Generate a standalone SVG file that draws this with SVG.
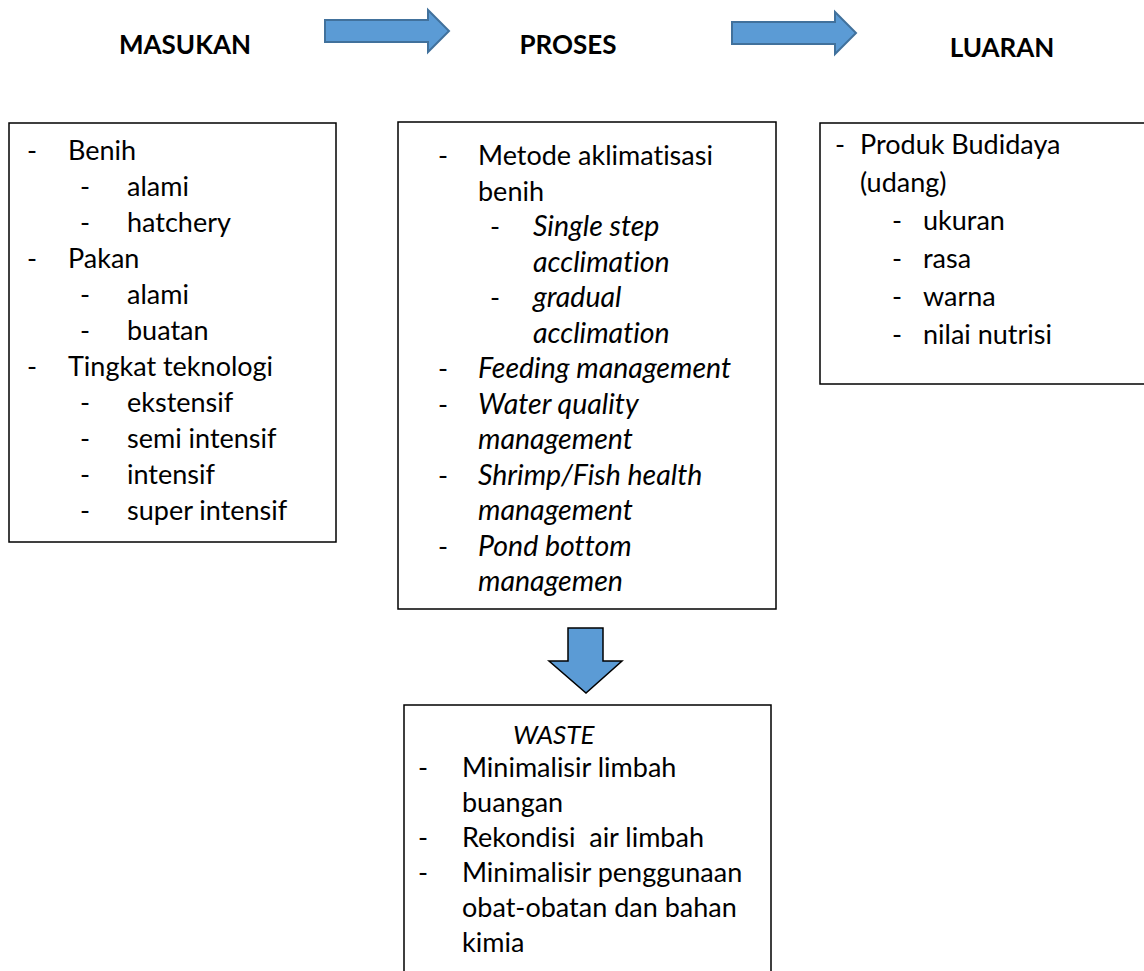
<svg xmlns="http://www.w3.org/2000/svg" width="1144" height="971" viewBox="0 0 1144 971">
  <style>
    text { font-family: Lato, "Open Sans", "Liberation Sans", sans-serif; font-size: 27px; fill: #000; font-variant-ligatures: none; }
    .head { font-weight: bold; font-size: 26px; text-anchor: middle; }
    .it { font-style: italic; font-size: 28.5px; }
    .cap { font-style: italic; font-size: 26px; }
    .dash { text-anchor: middle; }
    .box { fill: #fff; stroke: #000; stroke-width: 1.5; }
    .flow { fill: #5b9bd5; stroke: #41719c; stroke-width: 2; stroke-linejoin: miter; }
    .down { fill: #5b9bd5; stroke: #000; stroke-width: 1.5; stroke-linejoin: miter; }
  </style>
  <rect width="1144" height="971" fill="#fff"/>

  <!-- stage headings -->
  <g id="headings">
    <text class="head" x="185" y="54">MASUKAN</text>
    <text class="head" x="568" y="54">PROSES</text>
    <text class="head" x="1002" y="57">LUARAN</text>
  </g>

  <!-- block arrows between stages -->
  <g id="connectors">
    <path class="flow" d="M325,20 H428 V10 L449,31 L428,52 V42 H325 Z"/>
    <path class="flow" d="M732,22 H835 V12 L856,33 L835,54 V44 H732 Z"/>
    <path class="down" d="M568,628 H603 V661 H622 L586,693 L549,661 H568 Z"/>
  </g>

  <!-- inputs -->
  <g id="masukan">
    <rect class="box" x="9" y="123" width="327" height="419"/>
    <text class="dash" x="32" y="160">-</text><text x="68" y="160">Benih</text>
    <text class="dash" x="85" y="196">-</text><text x="127" y="196">alami</text>
    <text class="dash" x="85" y="232">-</text><text x="127" y="232">hatchery</text>
    <text class="dash" x="32" y="268">-</text><text x="68" y="268">Pakan</text>
    <text class="dash" x="85" y="304">-</text><text x="127" y="304">alami</text>
    <text class="dash" x="85" y="340">-</text><text x="127" y="340">buatan</text>
    <text class="dash" x="32" y="376">-</text><text x="68" y="376">Tingkat teknologi</text>
    <text class="dash" x="85" y="412">-</text><text x="127" y="412">ekstensif</text>
    <text class="dash" x="85" y="448">-</text><text x="127" y="448">semi intensif</text>
    <text class="dash" x="85" y="484">-</text><text x="127" y="484">intensif</text>
    <text class="dash" x="85" y="520">-</text><text x="127" y="520">super intensif</text>
  </g>

  <!-- process -->
  <g id="proses">
    <rect class="box" x="398" y="122" width="378" height="487"/>
    <text class="dash" x="443" y="165">-</text><text x="478" y="165">Metode aklimatisasi</text>
    <text x="478" y="200.5">benih</text>
    <text class="dash" x="495" y="236">-</text><text class="it" x="533" y="236">Single step</text>
    <text class="it" x="533" y="271.5">acclimation</text>
    <text class="dash" x="495" y="307">-</text><text class="it" x="533" y="307">gradual</text>
    <text class="it" x="533" y="342.5">acclimation</text>
    <text class="dash" x="443" y="378">-</text><text class="it" x="478" y="378">Feeding management</text>
    <text class="dash" x="443" y="413.5">-</text><text class="it" x="478" y="413.5">Water quality</text>
    <text class="it" x="478" y="449">management</text>
    <text class="dash" x="443" y="484.5">-</text><text class="it" x="478" y="484.5">Shrimp/Fish health</text>
    <text class="it" x="478" y="520">management</text>
    <text class="dash" x="443" y="555.5">-</text><text class="it" x="478" y="555.5">Pond bottom</text>
    <text class="it" x="478" y="591">managemen</text>
  </g>

  <!-- outputs -->
  <g id="luaran">
    <rect class="box" x="820" y="123" width="330" height="261"/>
    <text class="dash" x="840" y="154">-</text><text x="860" y="154">Produk Budidaya</text>
    <text x="860" y="192">(udang)</text>
    <text class="dash" x="897" y="230">-</text><text x="923" y="230">ukuran</text>
    <text class="dash" x="897" y="268">-</text><text x="923" y="268">rasa</text>
    <text class="dash" x="897" y="306">-</text><text x="923" y="306">warna</text>
    <text class="dash" x="897" y="344">-</text><text x="923" y="344">nilai nutrisi</text>
  </g>

  <!-- waste handling -->
  <g id="waste">
    <path class="box" d="M404,975 V705 H771 V975"/>
    <text class="cap" x="513" y="744">WASTE</text>
    <text class="dash" x="423" y="777">-</text><text x="462" y="777">Minimalisir limbah</text>
    <text x="462" y="812">buangan</text>
    <text class="dash" x="423" y="847">-</text><text x="462" y="847" style="white-space:pre">Rekondisi  air limbah</text>
    <text class="dash" x="423" y="882">-</text><text x="462" y="882">Minimalisir penggunaan</text>
    <text x="462" y="917">obat-obatan dan bahan</text>
    <text x="462" y="952">kimia</text>
  </g>
</svg>
